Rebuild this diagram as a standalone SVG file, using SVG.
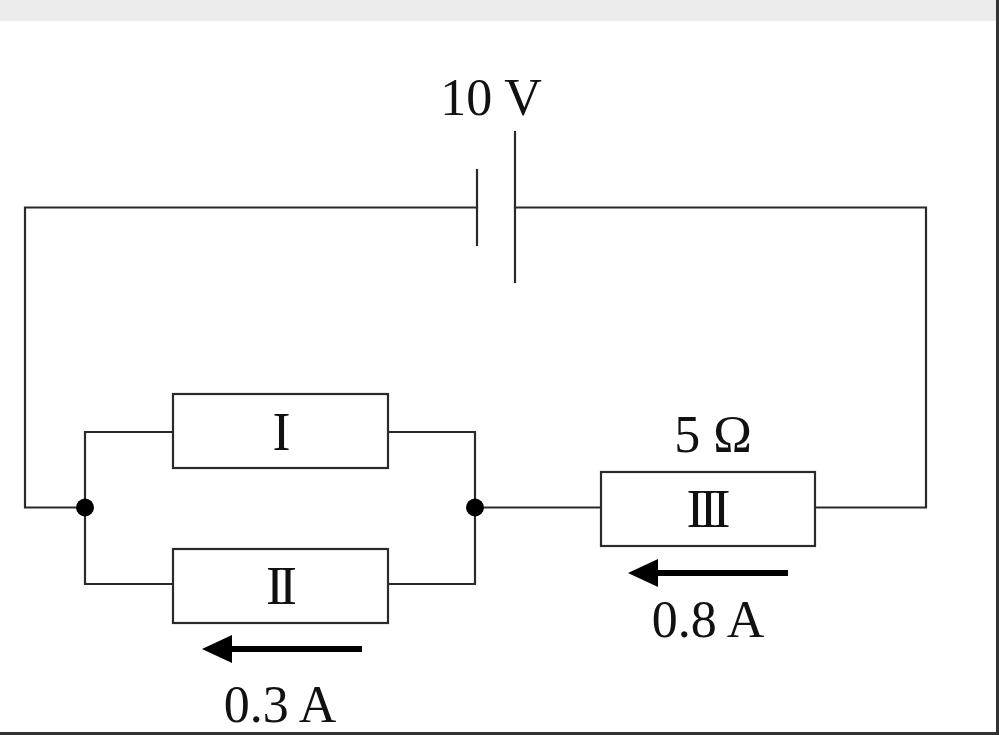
<svg xmlns="http://www.w3.org/2000/svg" width="999" height="735" viewBox="0 0 999 735">
<style>
.w{fill:none;stroke:#2a2a2a;stroke-width:2.2;stroke-linecap:square}
.r{fill:#fff;stroke:#2a2a2a;stroke-width:2.2}
.t{font-family:"Liberation Serif","Times New Roman",serif;font-size:52px;fill:#111;text-anchor:middle}
.n{font-family:"Liberation Serif","Times New Roman",serif;font-size:54px;fill:#111;text-anchor:middle;letter-spacing:-5px}
.a{fill:none;stroke:#000;stroke-width:6}
.h{fill:#000}
</style>
<rect x="0" y="0" width="999" height="735" fill="#fff"/>
<rect x="0" y="0" width="999" height="21" fill="#ebebeb"/>
<rect x="996" y="0" width="3" height="735" fill="#333"/>
<rect x="0" y="732" width="999" height="3" fill="#333"/>
<g id="connectors">
<path class="w" d="M477,207.5 H25 V507.5 H85"/>
<path class="w" d="M515,207.5 H926 V507.5 H815"/>
<path class="w" d="M475,507.5 H601"/>
<path class="w" d="M173,432 H85 V584 H173"/>
<path class="w" d="M388,432 H475 V584 H388"/>
</g>
<g id="battery">
<line class="w" x1="477" y1="170" x2="477" y2="245"/>
<line class="w" x1="515" y1="132" x2="515" y2="282"/>
<text class="t" x="491" y="115">10 V</text>
</g>
<g id="junction-left"><circle cx="85" cy="507.5" r="9" fill="#000"/></g>
<g id="junction-right"><circle cx="475" cy="507.5" r="9" fill="#000"/></g>
<g id="resistor-I">
<rect class="r" x="173" y="394" width="215" height="74"/>
<text class="n" x="279" y="450">I</text>
</g>
<g id="resistor-II">
<rect class="r" x="173" y="549" width="215" height="74"/>
<text class="n" x="279" y="604">II</text>
</g>
<g id="resistor-III">
<rect class="r" x="601" y="472" width="214" height="74"/>
<text class="n" x="706" y="527">III</text>
<text class="t" x="713" y="452">5 Ω</text>
</g>
<g id="current-II">
<line class="a" x1="362" y1="649" x2="226" y2="649"/>
<polygon class="h" points="202,649 232,635 232,663"/>
<text class="t" x="280" y="722">0.3 A</text>
</g>
<g id="current-III">
<line class="a" x1="788" y1="573" x2="652" y2="573"/>
<polygon class="h" points="628,573 658,559 658,587"/>
<text class="t" x="708" y="637">0.8 A</text>
</g>
</svg>
